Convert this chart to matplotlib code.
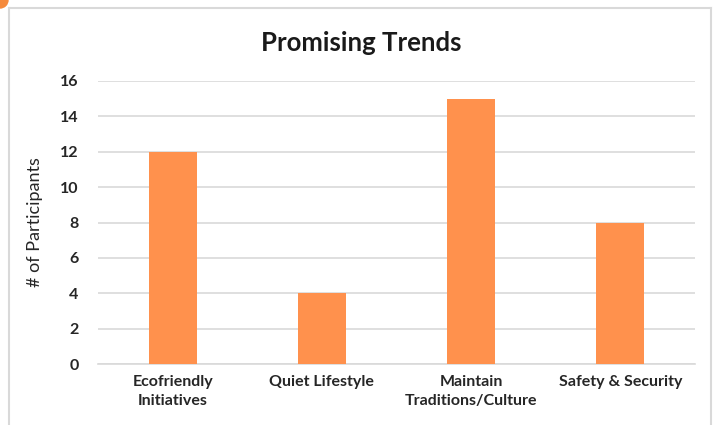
import matplotlib.pyplot as plt
from matplotlib.lines import Line2D
from matplotlib.patches import Circle

categories = ["Ecofriendly\nInitiatives", "Quiet Lifestyle", "Maintain\nTraditions/Culture", "Safety & Security"]
participants = [12, 4, 15, 8]
yticks = [0, 2, 4, 6, 8, 10, 12, 14, 16]

plt.rcParams['font.family'] = ['Lato', 'DejaVu Sans']

W, H = 713, 425
fig = plt.figure(figsize=(W / 100, H / 100), dpi=100)
fig.patch.set_facecolor('white')

# chart frame (light gray border, no bottom edge visible)
fx = lambda px: px / W
fy = lambda py: 1 - py / H
frame_c = '#d9d9d9'
fig.add_artist(Line2D([fx(9), fx(9)], [fy(8), 0], color=frame_c, lw=1.5, transform=fig.transFigure))
fig.add_artist(Line2D([fx(9), fx(711)], [fy(8), fy(8)], color=frame_c, lw=1.5, transform=fig.transFigure))
fig.add_artist(Line2D([fx(711), fx(711)], [fy(8), 0], color=frame_c, lw=1.5, transform=fig.transFigure))
# orange corner mark
fig.add_artist(Circle((0, H), 8, transform=None, color='#f58a3c', clip_on=False))

ax = fig.add_axes([98 / W, 61 / H, 597 / W, 283 / H])
x = range(len(categories))
ax.bar(x, participants, width=0.32, color='#ff914d', zorder=3)
ax.set_xlim(-0.5, 3.5)
ax.set_ylim(0, 16)
ax.set_yticks(yticks)
ax.set_xticks(list(x))
ax.set_xticklabels(categories, fontsize=11.5, fontweight='bold', color='#262626', linespacing=1.45)
ax.set_yticklabels([str(v) for v in yticks], fontsize=11.5, fontweight='bold', color='#262626')
ax.tick_params(length=0)
ax.tick_params(axis='x', pad=8)
ax.tick_params(axis='y', pad=14)
ax.grid(axis='y', color='#d9d9d9', lw=1.2, zorder=0)
for s in ['top', 'right', 'left']:
    ax.spines[s].set_visible(False)
ax.spines['bottom'].set_color('#d9d9d9')
ax.spines['bottom'].set_linewidth(1.2)
ax.set_ylabel('# of Participants', fontsize=13, color='#262626', labelpad=12)
fig.text(361 / W, fy(43), 'Promising Trends', ha='center', va='center',
         fontsize=18.5, fontweight='bold', color='#1a1a1a')

fig.savefig('out.png', dpi=100)
